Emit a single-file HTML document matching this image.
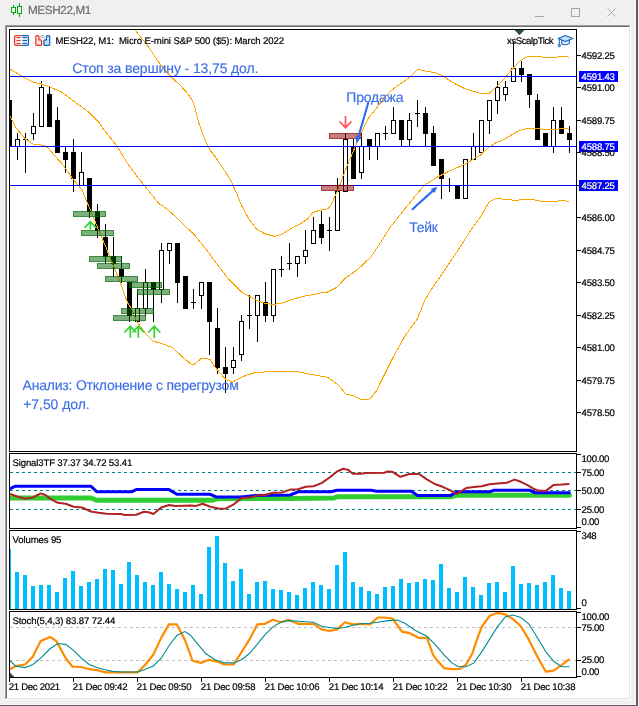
<!DOCTYPE html>
<html><head><meta charset="utf-8"><title>MESH22,M1</title>
<style>
html,body{margin:0;padding:0;background:#f0f0f0;}
body{width:639px;height:706px;position:relative;overflow:hidden;font-family:"Liberation Sans", sans-serif;}
.t{position:absolute;white-space:nowrap;font-family:"Liberation Sans", sans-serif;text-rendering:geometricPrecision;-webkit-text-stroke:0.2px currentColor;}
.a{position:absolute;white-space:nowrap;font-family:"Liberation Sans", sans-serif;text-rendering:geometricPrecision;-webkit-text-stroke:0.15px currentColor;}
</style></head><body>
<svg width="639" height="706" viewBox="0 0 639 706" style="position:absolute;left:0;top:0">
<rect x="0" y="0" width="639" height="706" fill="#f0f0f0"/>
<rect x="635" y="0" width="1" height="705" fill="#fafafa"/>
<rect x="0" y="704" width="636" height="1" fill="#fafafa"/>
<rect x="636" y="0" width="2" height="706" fill="#5e5e5e"/>
<rect x="0" y="705" width="638" height="1" fill="#5e5e5e"/>
<rect x="5" y="25" width="626" height="675" fill="#ffffff"/>
<rect x="5" y="25" width="625" height="1" fill="#a0a0a0"/>
<rect x="5" y="25" width="1" height="674" fill="#a0a0a0"/>
<rect x="6" y="26" width="623" height="1" fill="#696969"/>
<rect x="6" y="26" width="1" height="672" fill="#696969"/>
<rect x="629" y="26" width="1" height="673" fill="#e3e3e3"/>
<rect x="6" y="698" width="624" height="1" fill="#e3e3e3"/>
<g shape-rendering="crispEdges" fill="#0aa814"><rect x="11" y="7" width="5" height="6"/><rect x="13" y="5" width="1" height="2"/><rect x="13" y="13" width="1" height="2"/><rect x="17" y="6" width="5" height="8"/><rect x="19" y="3" width="1" height="3"/><rect x="19" y="14" width="1" height="3"/><rect x="12" y="8" width="3" height="4" fill="#e6ffe6"/><rect x="18" y="7" width="3" height="6" fill="#e6ffe6"/></g>
<g fill="none" stroke="#a6a6a6" stroke-width="1" shape-rendering="crispEdges"><path d="M535,16.5H544"/><rect x="571.5" y="8.5" width="8" height="8"/></g><path d="M607.5,8.5L615.5,16.5M615.5,8.5L607.5,16.5" fill="none" stroke="#a6a6a6" stroke-width="1"/>
<defs><clipPath id="cm"><rect x="10" y="30" width="566" height="421"/></clipPath><clipPath id="c1"><rect x="10" y="454" width="566" height="74"/></clipPath><clipPath id="c2"><rect x="10" y="531" width="566" height="78"/></clipPath><clipPath id="c3"><rect x="10" y="612" width="566" height="65"/></clipPath></defs>
<g clip-path="url(#cm)">
<g fill="#000" shape-rendering="crispEdges">
<rect x="9" y="100" width="1" height="47"/>
<rect x="7" y="100" width="5" height="47"/>
<rect x="17" y="133" width="1" height="6"/>
<rect x="17" y="146" width="1" height="14"/>
<rect x="15" y="139" width="5" height="8"/>
<rect x="16" y="140" width="3" height="6" fill="#fff"/>
<rect x="25" y="133" width="1" height="40"/>
<rect x="23" y="139" width="5" height="1"/>
<rect x="33" y="113" width="1" height="13"/>
<rect x="33" y="133" width="1" height="7"/>
<rect x="31" y="126" width="5" height="8"/>
<rect x="32" y="127" width="3" height="6" fill="#fff"/>
<rect x="41" y="81" width="1" height="6"/>
<rect x="39" y="87" width="5" height="40"/>
<rect x="40" y="88" width="3" height="38" fill="#fff"/>
<rect x="49" y="87" width="1" height="40"/>
<rect x="47" y="94" width="5" height="33"/>
<rect x="57" y="107" width="1" height="46"/>
<rect x="55" y="120" width="5" height="33"/>
<rect x="65" y="146" width="1" height="27"/>
<rect x="63" y="152" width="5" height="8"/>
<rect x="73" y="139" width="1" height="53"/>
<rect x="71" y="152" width="5" height="27"/>
<rect x="81" y="152" width="1" height="20"/>
<rect x="79" y="172" width="5" height="14"/>
<rect x="80" y="173" width="3" height="12" fill="#fff"/>
<rect x="89" y="178" width="1" height="40"/>
<rect x="87" y="178" width="5" height="34"/>
<rect x="97" y="204" width="1" height="34"/>
<rect x="95" y="211" width="5" height="20"/>
<rect x="105" y="224" width="1" height="40"/>
<rect x="103" y="237" width="5" height="20"/>
<rect x="113" y="237" width="1" height="40"/>
<rect x="111" y="256" width="5" height="8"/>
<rect x="121" y="256" width="1" height="27"/>
<rect x="119" y="269" width="5" height="8"/>
<rect x="129" y="282" width="1" height="40"/>
<rect x="127" y="282" width="5" height="34"/>
<rect x="137" y="289" width="1" height="19"/>
<rect x="135" y="308" width="5" height="14"/>
<rect x="136" y="309" width="3" height="12" fill="#fff"/>
<rect x="145" y="269" width="1" height="13"/>
<rect x="145" y="308" width="1" height="8"/>
<rect x="143" y="282" width="5" height="27"/>
<rect x="144" y="283" width="3" height="25" fill="#fff"/>
<rect x="153" y="282" width="1" height="40"/>
<rect x="151" y="282" width="5" height="8"/>
<rect x="161" y="243" width="1" height="7"/>
<rect x="161" y="289" width="1" height="14"/>
<rect x="159" y="250" width="5" height="40"/>
<rect x="160" y="251" width="3" height="38" fill="#fff"/>
<rect x="169" y="250" width="1" height="14"/>
<rect x="167" y="243" width="5" height="8"/>
<rect x="168" y="244" width="3" height="6" fill="#fff"/>
<rect x="177" y="243" width="1" height="60"/>
<rect x="175" y="243" width="5" height="40"/>
<rect x="185" y="276" width="1" height="33"/>
<rect x="183" y="276" width="5" height="33"/>
<rect x="193" y="289" width="1" height="20"/>
<rect x="191" y="302" width="5" height="1"/>
<rect x="201" y="295" width="1" height="14"/>
<rect x="199" y="282" width="5" height="14"/>
<rect x="200" y="283" width="3" height="12" fill="#fff"/>
<rect x="209" y="282" width="1" height="73"/>
<rect x="207" y="282" width="5" height="40"/>
<rect x="217" y="308" width="1" height="66"/>
<rect x="215" y="328" width="5" height="40"/>
<rect x="225" y="347" width="1" height="46"/>
<rect x="223" y="367" width="5" height="7"/>
<rect x="233" y="347" width="1" height="13"/>
<rect x="233" y="367" width="1" height="7"/>
<rect x="231" y="360" width="5" height="8"/>
<rect x="232" y="361" width="3" height="6" fill="#fff"/>
<rect x="241" y="315" width="1" height="6"/>
<rect x="241" y="354" width="1" height="7"/>
<rect x="239" y="321" width="5" height="34"/>
<rect x="240" y="322" width="3" height="32" fill="#fff"/>
<rect x="249" y="295" width="1" height="34"/>
<rect x="247" y="315" width="5" height="1"/>
<rect x="257" y="315" width="1" height="27"/>
<rect x="255" y="295" width="5" height="21"/>
<rect x="256" y="296" width="3" height="19" fill="#fff"/>
<rect x="265" y="282" width="1" height="40"/>
<rect x="263" y="302" width="5" height="14"/>
<rect x="273" y="315" width="1" height="7"/>
<rect x="271" y="269" width="5" height="47"/>
<rect x="272" y="270" width="3" height="45" fill="#fff"/>
<rect x="281" y="256" width="1" height="21"/>
<rect x="279" y="269" width="5" height="1"/>
<rect x="289" y="243" width="1" height="27"/>
<rect x="287" y="263" width="5" height="1"/>
<rect x="297" y="263" width="1" height="14"/>
<rect x="295" y="256" width="5" height="8"/>
<rect x="296" y="257" width="3" height="6" fill="#fff"/>
<rect x="305" y="230" width="1" height="20"/>
<rect x="305" y="256" width="1" height="8"/>
<rect x="303" y="250" width="5" height="7"/>
<rect x="304" y="251" width="3" height="5" fill="#fff"/>
<rect x="313" y="217" width="1" height="13"/>
<rect x="311" y="230" width="5" height="14"/>
<rect x="312" y="231" width="3" height="12" fill="#fff"/>
<rect x="321" y="211" width="1" height="33"/>
<rect x="319" y="224" width="5" height="14"/>
<rect x="329" y="217" width="1" height="34"/>
<rect x="327" y="230" width="5" height="1"/>
<rect x="337" y="178" width="1" height="13"/>
<rect x="335" y="191" width="5" height="40"/>
<rect x="336" y="192" width="3" height="38" fill="#fff"/>
<rect x="345" y="133" width="1" height="6"/>
<rect x="343" y="139" width="5" height="53"/>
<rect x="344" y="140" width="3" height="51" fill="#fff"/>
<rect x="353" y="139" width="1" height="40"/>
<rect x="351" y="146" width="5" height="33"/>
<rect x="361" y="133" width="1" height="13"/>
<rect x="361" y="172" width="1" height="7"/>
<rect x="359" y="146" width="5" height="27"/>
<rect x="360" y="147" width="3" height="25" fill="#fff"/>
<rect x="369" y="139" width="1" height="21"/>
<rect x="367" y="139" width="5" height="8"/>
<rect x="377" y="146" width="1" height="14"/>
<rect x="375" y="133" width="5" height="14"/>
<rect x="376" y="134" width="3" height="12" fill="#fff"/>
<rect x="385" y="126" width="1" height="14"/>
<rect x="383" y="133" width="5" height="1"/>
<rect x="393" y="107" width="1" height="13"/>
<rect x="391" y="120" width="5" height="14"/>
<rect x="392" y="121" width="3" height="12" fill="#fff"/>
<rect x="401" y="120" width="1" height="27"/>
<rect x="399" y="120" width="5" height="20"/>
<rect x="409" y="113" width="1" height="7"/>
<rect x="409" y="139" width="1" height="8"/>
<rect x="407" y="120" width="5" height="20"/>
<rect x="408" y="121" width="3" height="18" fill="#fff"/>
<rect x="417" y="100" width="1" height="27"/>
<rect x="415" y="113" width="5" height="1"/>
<rect x="425" y="107" width="1" height="40"/>
<rect x="423" y="113" width="5" height="21"/>
<rect x="433" y="126" width="1" height="40"/>
<rect x="431" y="133" width="5" height="33"/>
<rect x="441" y="159" width="1" height="40"/>
<rect x="439" y="159" width="5" height="20"/>
<rect x="449" y="178" width="1" height="14"/>
<rect x="447" y="185" width="5" height="1"/>
<rect x="457" y="185" width="1" height="14"/>
<rect x="455" y="185" width="5" height="14"/>
<rect x="463" y="159" width="5" height="40"/>
<rect x="464" y="160" width="3" height="38" fill="#fff"/>
<rect x="473" y="133" width="1" height="13"/>
<rect x="471" y="146" width="5" height="14"/>
<rect x="472" y="147" width="3" height="12" fill="#fff"/>
<rect x="479" y="120" width="5" height="33"/>
<rect x="480" y="121" width="3" height="31" fill="#fff"/>
<rect x="489" y="120" width="1" height="14"/>
<rect x="487" y="100" width="5" height="21"/>
<rect x="488" y="101" width="3" height="19" fill="#fff"/>
<rect x="497" y="81" width="1" height="6"/>
<rect x="497" y="100" width="1" height="14"/>
<rect x="495" y="87" width="5" height="14"/>
<rect x="496" y="88" width="3" height="12" fill="#fff"/>
<rect x="505" y="81" width="1" height="6"/>
<rect x="505" y="94" width="1" height="7"/>
<rect x="503" y="87" width="5" height="8"/>
<rect x="504" y="88" width="3" height="6" fill="#fff"/>
<rect x="513" y="42" width="1" height="26"/>
<rect x="511" y="68" width="5" height="14"/>
<rect x="512" y="69" width="3" height="12" fill="#fff"/>
<rect x="521" y="61" width="1" height="21"/>
<rect x="519" y="68" width="5" height="7"/>
<rect x="529" y="74" width="1" height="34"/>
<rect x="527" y="74" width="5" height="21"/>
<rect x="537" y="94" width="1" height="46"/>
<rect x="535" y="100" width="5" height="40"/>
<rect x="545" y="133" width="1" height="14"/>
<rect x="543" y="133" width="5" height="14"/>
<rect x="553" y="107" width="1" height="13"/>
<rect x="553" y="146" width="1" height="7"/>
<rect x="551" y="120" width="5" height="27"/>
<rect x="552" y="121" width="3" height="25" fill="#fff"/>
<rect x="561" y="107" width="1" height="27"/>
<rect x="559" y="120" width="5" height="14"/>
<rect x="569" y="126" width="1" height="27"/>
<rect x="567" y="133" width="5" height="7"/>
</g>
<g shape-rendering="crispEdges" stroke="#ffa500" stroke-width="1">
<polyline points="135.0,30.0 142.5,39.3 150.0,49.3 157.5,60.5 165.0,70.6 172.6,78.1 180.0,85.1 186.3,91.8 192.6,100.6 195.1,108.1 198.9,123.1 201.3,130.0 205.0,140.0 210.0,150.0 217.5,160.0 225.0,171.3 231.3,181.3 236.3,192.6 241.3,205.1 248.8,218.9 256.3,228.9 265.1,233.9 275.1,236.4 282.6,233.9 292.7,227.6 300.2,223.9 307.7,218.9 312.7,212.6 320.2,210.1 327.7,208.9 331.4,204.5 336.9,192.0 340.8,182.6 344.7,171.7 348.6,162.3 352.6,152.9 356.5,143.5 359.6,136.5 363.5,127.9 368.2,118.5 374.5,110.6 380.7,102.8 385.6,96.0 395.0,87.6 404.4,81.0 411.0,76.3 417.6,69.2 425.1,71.0 434.5,72.5 442.0,75.4 447.6,79.1 455.1,83.8 464.5,88.5 472.0,90.9 481.4,93.6 488.9,93.6 494.6,88.5 503.5,79.6 511.3,70.2 520.7,60.0 528.5,56.1 541.0,56.1 542.6,57.2 556.7,57.2 559.8,56.1 566.0,56.1 569.2,57.4" fill="none" />
<polyline points="9.7,69.0 20.6,75.5 33.2,82.2 41.0,83.8 50.4,87.2 61.3,91.9 73.9,101.3 88.0,111.5 98.9,122.4 104.1,130.0 116.6,145.6 127.6,163.6 138.6,178.5 149.5,191.8 158.9,203.6 165.0,207.5 175.0,216.0 184.0,225.0 194.1,234.4 206.6,250.0 217.6,264.9 228.6,279.0 241.9,292.3 248.9,296.2 257.6,301.0 265.6,303.6 273.5,304.4 281.3,303.3 290.7,300.2 301.6,296.7 312.6,294.7 320.0,293.0 327.5,292.0 336.9,287.3 344.4,278.9 357.6,269.5 370.7,257.3 376.3,248.8 383.8,237.6 390.0,227.5 398.5,216.9 406.9,206.3 415.4,195.8 423.8,185.9 426.6,183.8 437.9,176.8 449.2,171.1 460.4,166.2 468.9,162.0 474.5,158.5 480.0,155.3 489.4,146.9 495.6,143.0 503.5,139.9 511.3,135.2 519.1,130.5 527.0,128.6 539.5,128.5 542.6,129.5 555.1,129.5 561.4,128.4 566.0,128.4 569.2,129.6" fill="none" />
<polyline points="9.7,115.3 16.0,127.9 25.3,138.9 33.2,144.3 41.8,145.1 43.8,145.6 48.5,148.5 54.1,155.0 58.8,160.2 63.5,165.4 67.2,171.0 71.9,177.6 75.7,182.3 80.4,187.9 83.2,192.6 86.0,200.0 90.8,210.6 97.9,228.6 105.7,246.6 111.9,262.3 119.8,281.1 127.6,303.0 131.3,308.2 136.8,321.5 145.4,333.2 153.2,341.0 162.6,343.9 172.0,347.3 181.4,355.9 190.8,364.0 193.9,364.5 201.3,358.4 209.9,359.2 215.3,367.5 225.5,379.2 232.6,382.3 237.3,379.2 245.0,375.8 256.0,372.2 273.2,371.8 285.8,371.7 295.0,371.2 311.4,374.4 327.6,377.3 337.8,384.6 346.0,394.0 354.0,396.0 362.2,400.0 370.4,398.8 376.5,390.7 384.6,374.4 392.7,358.2 405.0,335.8 417.0,319.5 425.2,299.5 432.7,287.3 440.0,277.0 445.1,269.5 457.6,250.8 464.6,240.0 471.7,228.9 480.0,217.6 484.7,209.5 489.4,201.7 495.6,198.6 498.8,198.3 505.0,199.8 517.6,200.2 525.4,199.1 533.2,199.7 542.6,201.4 555.1,201.4 563.0,200.2 569.2,201.7" fill="none" />
</g>
<rect x="10" y="76" width="566" height="1" fill="#0000ff"/>
<rect x="10" y="146" width="566" height="1" fill="#0000ff"/>
<rect x="10" y="185" width="566" height="1" fill="#0000ff"/>
<g shape-rendering="crispEdges">
<rect x="73" y="211" width="33" height="6" fill="rgba(0,100,0,0.5)"/>
<rect x="73.5" y="211.5" width="32" height="5" fill="none" stroke="rgba(0,100,0,0.5)" stroke-width="1"/>
<rect x="81" y="230" width="33" height="6" fill="rgba(0,100,0,0.5)"/>
<rect x="81.5" y="230.5" width="32" height="5" fill="none" stroke="rgba(0,100,0,0.5)" stroke-width="1"/>
<rect x="89" y="256" width="33" height="6" fill="rgba(0,100,0,0.5)"/>
<rect x="89.5" y="256.5" width="32" height="5" fill="none" stroke="rgba(0,100,0,0.5)" stroke-width="1"/>
<rect x="97" y="263" width="33" height="6" fill="rgba(0,100,0,0.5)"/>
<rect x="97.5" y="263.5" width="32" height="5" fill="none" stroke="rgba(0,100,0,0.5)" stroke-width="1"/>
<rect x="105" y="276" width="33" height="6" fill="rgba(0,100,0,0.5)"/>
<rect x="105.5" y="276.5" width="32" height="5" fill="none" stroke="rgba(0,100,0,0.5)" stroke-width="1"/>
<rect x="129" y="282" width="33" height="6" fill="rgba(0,100,0,0.5)"/>
<rect x="129.5" y="282.5" width="32" height="5" fill="none" stroke="rgba(0,100,0,0.5)" stroke-width="1"/>
<rect x="137" y="289" width="33" height="6" fill="rgba(0,100,0,0.5)"/>
<rect x="137.5" y="289.5" width="32" height="5" fill="none" stroke="rgba(0,100,0,0.5)" stroke-width="1"/>
<rect x="121" y="308" width="33" height="6" fill="rgba(0,100,0,0.5)"/>
<rect x="121.5" y="308.5" width="32" height="5" fill="none" stroke="rgba(0,100,0,0.5)" stroke-width="1"/>
<rect x="113" y="315" width="33" height="6" fill="rgba(0,100,0,0.5)"/>
<rect x="113.5" y="315.5" width="32" height="5" fill="none" stroke="rgba(0,100,0,0.5)" stroke-width="1"/>
<rect x="329" y="133" width="33" height="6" fill="rgba(139,0,0,0.5)"/>
<rect x="329.5" y="133.5" width="32" height="5" fill="none" stroke="rgba(139,0,0,0.5)" stroke-width="1"/>
<rect x="321" y="185" width="33" height="6" fill="rgba(139,0,0,0.5)"/>
<rect x="321.5" y="185.5" width="32" height="5" fill="none" stroke="rgba(139,0,0,0.5)" stroke-width="1"/>
</g>
<path d="M84.3,228 L90.3,221.8 L96.3,228 M90.3,222.2 L90.3,233.5" fill="none" stroke="#35d435" stroke-width="1.7" stroke-linecap="butt" stroke-linejoin="miter"/>
<path d="M124.30000000000001,332.5 L130.3,326.3 L136.3,332.5 M130.3,326.7 L130.3,338.0" fill="none" stroke="#35d435" stroke-width="1.7" stroke-linecap="butt" stroke-linejoin="miter"/>
<path d="M132.3,332.5 L138.3,326.3 L144.3,332.5 M138.3,326.7 L138.3,338.0" fill="none" stroke="#35d435" stroke-width="1.7" stroke-linecap="butt" stroke-linejoin="miter"/>
<path d="M148.3,332.5 L154.3,326.3 L160.3,332.5 M154.3,326.7 L154.3,338.0" fill="none" stroke="#35d435" stroke-width="1.7" stroke-linecap="butt" stroke-linejoin="miter"/>
<path d="M339.5,121.5 L345.5,127.7 L351.5,121.5 M345.5,127.3 L345.5,116" fill="none" stroke="#ff5252" stroke-width="1.7" stroke-linecap="butt" stroke-linejoin="miter"/>
<g stroke="#2e6aee" stroke-width="2.1" fill="#2e6aee" stroke-linecap="round"><path d="M368.2,103 L358.5,136.3"/><path d="M356.3,144 L355.7,135.5 L361.3,137.1 Z" stroke="none"/><path d="M412.5,209.2 L433,190.6"/><path d="M437.3,186.8 L434.6,193 L430.8,188.8 Z" stroke="none"/></g>
</g>
<path d="M514.5,30 L524.5,30 L519.5,35.3 Z" fill="#2f4f4f"/>
<g clip-path="url(#c1)">
<path d="M10,472.5H576" stroke="#008080" stroke-width="1" stroke-dasharray="3,3" shape-rendering="crispEdges"/>
<path d="M10,490.5H576" stroke="#008080" stroke-width="1" stroke-dasharray="3,3" shape-rendering="crispEdges"/>
<path d="M10,509.5H576" stroke="#008080" stroke-width="1" stroke-dasharray="3,3" shape-rendering="crispEdges"/>
<polyline points="10.0,498.0 90.8,498.0 97.0,500.3 211.9,500.3 218.2,498.7 290.0,498.4 334.0,498.0 337.0,496.8 450.4,496.8 456.7,495.3 569.4,495.3" fill="none" stroke="#32cd32" stroke-width="5" stroke-linecap="round" stroke-linejoin="round"/>
<polyline points="10.0,488.7 15.6,486.2 90.8,486.2 97.0,491.8 131.5,491.8 136.2,489.6 169.0,489.6 176.8,494.3 210.3,494.3 216.6,497.1 240.0,497.1 246.3,496.5 255.7,495.6 290.2,495.0 298.0,491.8 330.8,491.8 337.1,490.3 371.5,490.3 376.2,491.2 411.3,491.2 417.6,495.6 450.4,495.6 456.7,491.8 489.5,491.8 494.2,490.3 530.2,490.3 535.0,492.8 569.4,492.8" fill="none" stroke="#0000ff" stroke-width="3" stroke-linecap="round" stroke-linejoin="round"/>
<polyline points="10.0,494.0 17.2,496.5 25.0,498.7 32.9,497.5 40.7,493.4 45.4,495.0 51.6,499.6 57.9,502.8 65.7,503.7 73.6,506.8 82.0,507.5 90.8,511.5 98.6,512.8 106.4,513.7 120.5,514.0 125.2,515.0 136.2,514.7 144.0,511.8 148.7,512.2 153.4,514.0 161.2,507.5 169.0,505.0 175.3,505.9 190.9,505.6 196.3,505.9 202.5,503.7 210.3,506.8 219.7,508.7 226.0,508.4 233.8,504.3 241.6,498.1 249.5,497.5 257.3,495.6 265.1,495.0 272.9,492.8 282.3,492.4 290.2,489.6 298.0,489.3 305.8,486.8 313.6,486.2 321.5,483.1 329.3,477.7 337.1,471.5 343.4,468.7 348.1,469.9 352.8,473.7 360.6,473.7 365.3,473.0 384.0,472.7 387.8,471.5 392.5,471.8 400.3,476.8 409.7,474.0 419.1,474.0 426.9,479.3 434.8,484.0 442.6,486.8 450.4,490.3 456.7,494.0 466.1,488.1 473.9,487.1 481.7,486.2 489.5,484.3 497.4,483.4 506.8,482.7 514.6,479.6 520.8,481.8 527.1,484.9 533.4,488.7 538.1,490.6 545.9,490.9 553.7,484.9 561.5,484.6 569.4,484.0" fill="none" stroke="#b22222" stroke-width="2" stroke-linejoin="round"/>
</g>
<g clip-path="url(#c2)" fill="#00bfff" shape-rendering="crispEdges">
<rect x="7" y="549" width="4" height="60"/>
<rect x="15" y="572" width="4" height="37"/>
<rect x="23" y="575" width="4" height="34"/>
<rect x="31" y="586" width="4" height="23"/>
<rect x="39" y="585" width="4" height="24"/>
<rect x="47" y="585" width="4" height="24"/>
<rect x="55" y="592" width="4" height="17"/>
<rect x="63" y="578" width="4" height="31"/>
<rect x="71" y="571" width="4" height="38"/>
<rect x="79" y="586" width="4" height="23"/>
<rect x="87" y="582" width="4" height="27"/>
<rect x="95" y="579" width="4" height="30"/>
<rect x="103" y="569" width="4" height="40"/>
<rect x="111" y="570" width="4" height="39"/>
<rect x="119" y="584" width="4" height="25"/>
<rect x="127" y="562" width="4" height="47"/>
<rect x="135" y="575" width="4" height="34"/>
<rect x="143" y="582" width="4" height="27"/>
<rect x="151" y="585" width="4" height="24"/>
<rect x="159" y="572" width="4" height="37"/>
<rect x="167" y="584" width="4" height="25"/>
<rect x="175" y="589" width="4" height="20"/>
<rect x="183" y="592" width="4" height="17"/>
<rect x="191" y="585" width="4" height="24"/>
<rect x="199" y="594" width="4" height="15"/>
<rect x="207" y="547" width="4" height="62"/>
<rect x="215" y="536" width="4" height="73"/>
<rect x="223" y="563" width="4" height="46"/>
<rect x="231" y="581" width="4" height="28"/>
<rect x="239" y="569" width="4" height="40"/>
<rect x="247" y="594" width="4" height="15"/>
<rect x="255" y="582" width="4" height="27"/>
<rect x="263" y="581" width="4" height="28"/>
<rect x="271" y="589" width="4" height="20"/>
<rect x="279" y="590" width="4" height="19"/>
<rect x="287" y="592" width="4" height="17"/>
<rect x="295" y="595" width="4" height="14"/>
<rect x="303" y="588" width="4" height="21"/>
<rect x="311" y="582" width="4" height="27"/>
<rect x="319" y="585" width="4" height="24"/>
<rect x="327" y="589" width="4" height="20"/>
<rect x="335" y="565" width="4" height="44"/>
<rect x="343" y="552" width="4" height="57"/>
<rect x="351" y="582" width="4" height="27"/>
<rect x="359" y="587" width="4" height="22"/>
<rect x="367" y="591" width="4" height="18"/>
<rect x="375" y="594" width="4" height="15"/>
<rect x="383" y="587" width="4" height="22"/>
<rect x="391" y="586" width="4" height="23"/>
<rect x="399" y="579" width="4" height="30"/>
<rect x="407" y="583" width="4" height="26"/>
<rect x="415" y="582" width="4" height="27"/>
<rect x="423" y="579" width="4" height="30"/>
<rect x="431" y="580" width="4" height="29"/>
<rect x="439" y="564" width="4" height="45"/>
<rect x="447" y="588" width="4" height="21"/>
<rect x="455" y="592" width="4" height="17"/>
<rect x="463" y="577" width="4" height="32"/>
<rect x="471" y="587" width="4" height="22"/>
<rect x="479" y="595" width="4" height="14"/>
<rect x="487" y="583" width="4" height="26"/>
<rect x="495" y="582" width="4" height="27"/>
<rect x="503" y="592" width="4" height="17"/>
<rect x="511" y="566" width="4" height="43"/>
<rect x="519" y="584" width="4" height="25"/>
<rect x="527" y="583" width="4" height="26"/>
<rect x="535" y="585" width="4" height="24"/>
<rect x="543" y="582" width="4" height="27"/>
<rect x="551" y="575" width="4" height="34"/>
<rect x="559" y="588" width="4" height="21"/>
<rect x="567" y="591" width="4" height="18"/>
</g>
<g clip-path="url(#c3)">
<path d="M10,627.5H576" stroke="#c0c0c0" stroke-width="1" stroke-dasharray="3,3" shape-rendering="crispEdges"/>
<path d="M10,660.5H576" stroke="#c0c0c0" stroke-width="1" stroke-dasharray="3,3" shape-rendering="crispEdges"/>
<polyline points="10.0,669.2 15.6,666.0 25.0,664.5 32.9,656.6 40.7,641.0 50.0,636.9 56.3,641.0 65.7,658.2 72.6,666.7 81.4,667.0 89.2,669.2 97.0,670.1 104.9,672.3 112.7,672.3 137.7,672.3 145.5,664.5 153.4,654.5 161.2,637.9 169.0,624.4 176.8,624.4 184.7,639.4 192.5,660.7 201.0,662.9 208.8,659.8 216.6,661.3 224.4,664.5 233.8,664.5 241.6,652.0 249.5,639.4 257.3,624.4 265.1,623.8 272.9,619.7 280.8,622.2 288.6,619.7 298.0,623.8 313.6,623.8 321.5,629.4 329.3,631.0 337.1,629.4 344.9,622.2 352.8,624.4 360.6,623.8 370.0,624.4 377.8,617.5 384.0,617.5 392.5,618.5 401.9,631.6 409.7,633.2 419.1,637.9 426.9,637.9 433.2,655.1 437.9,661.3 444.2,668.2 452.0,669.2 459.8,668.8 466.1,664.5 472.3,653.5 477.0,639.4 481.7,626.9 489.5,616.0 497.4,612.8 505.2,614.4 513.0,619.1 520.8,626.3 528.7,639.4 536.5,655.1 545.9,671.7 553.7,670.7 561.5,665.1 569.4,659.1" fill="none" stroke="#ff8c00" stroke-width="2.2" stroke-linejoin="round" stroke-linecap="butt"/>
<polyline points="10.0,660.7 15.6,666.0 25.0,667.6 32.9,664.5 40.7,658.2 50.0,648.8 57.9,643.5 65.7,644.4 73.6,650.4 81.4,658.2 89.2,664.5 97.0,667.6 104.9,669.8 112.7,671.4 122.1,672.0 137.7,672.0 145.5,669.2 153.4,666.0 161.2,658.2 169.0,645.7 176.8,635.4 184.7,631.6 190.0,634.7 197.8,644.1 205.6,653.5 215.0,659.8 224.4,662.9 233.8,662.9 241.6,659.8 249.5,653.5 257.3,644.1 265.1,634.7 272.9,626.9 280.8,622.2 288.6,620.6 298.0,621.3 313.6,622.2 321.5,626.3 329.3,627.5 337.1,628.5 344.9,627.5 352.8,625.3 360.6,623.8 370.0,623.2 377.8,622.2 387.8,620.6 397.2,620.0 405.0,623.2 414.4,630.0 426.9,636.3 434.8,644.1 444.2,655.1 452.0,662.9 458.2,666.7 466.1,666.7 473.9,662.9 481.7,651.9 489.5,639.4 497.4,626.9 505.2,616.9 513.0,615.0 520.8,617.5 528.7,623.8 536.5,636.3 545.9,651.9 553.7,661.3 561.5,666.7 569.4,666.7" fill="none" stroke="#008b8b" stroke-width="1.1"/>
<path d="M10,672.5 L10,677 L14.5,677 Z" fill="#2f4f4f"/>
</g>
<g shape-rendering="crispEdges">
<rect x="9" y="29" width="1" height="423" fill="#000"/>
<rect x="576" y="29" width="1" height="423" fill="#000"/>
<rect x="9" y="453" width="1" height="76" fill="#000"/>
<rect x="576" y="453" width="1" height="76" fill="#000"/>
<rect x="9" y="530" width="1" height="80" fill="#000"/>
<rect x="576" y="530" width="1" height="80" fill="#000"/>
<rect x="9" y="611" width="1" height="67" fill="#000"/>
<rect x="576" y="611" width="1" height="67" fill="#000"/>
<rect x="9" y="29" width="568" height="1" fill="#000"/>
<rect x="9" y="451" width="568" height="1" fill="#000"/>
<rect x="9" y="453" width="568" height="1" fill="#000"/>
<rect x="9" y="528" width="568" height="1" fill="#000"/>
<rect x="9" y="530" width="568" height="1" fill="#000"/>
<rect x="9" y="609" width="568" height="1" fill="#000"/>
<rect x="9" y="611" width="568" height="1" fill="#000"/>
<rect x="9" y="677" width="568" height="1" fill="#000"/>
<rect x="577" y="55" width="4" height="1" fill="#000"/>
<rect x="577" y="87" width="4" height="1" fill="#000"/>
<rect x="577" y="120" width="4" height="1" fill="#000"/>
<rect x="577" y="152" width="4" height="1" fill="#000"/>
<rect x="577" y="185" width="4" height="1" fill="#000"/>
<rect x="577" y="217" width="4" height="1" fill="#000"/>
<rect x="577" y="250" width="4" height="1" fill="#000"/>
<rect x="577" y="282" width="4" height="1" fill="#000"/>
<rect x="577" y="315" width="4" height="1" fill="#000"/>
<rect x="577" y="347" width="4" height="1" fill="#000"/>
<rect x="577" y="380" width="4" height="1" fill="#000"/>
<rect x="577" y="412" width="4" height="1" fill="#000"/>
<rect x="577" y="454" width="4" height="1" fill="#000"/>
<rect x="577" y="472" width="4" height="1" fill="#000"/>
<rect x="577" y="490" width="4" height="1" fill="#000"/>
<rect x="577" y="509" width="4" height="1" fill="#000"/>
<rect x="577" y="527" width="4" height="1" fill="#000"/>
<rect x="577" y="531" width="4" height="1" fill="#000"/>
<rect x="577" y="608" width="4" height="1" fill="#000"/>
<rect x="577" y="612" width="4" height="1" fill="#000"/>
<rect x="577" y="627" width="4" height="1" fill="#000"/>
<rect x="577" y="660" width="4" height="1" fill="#000"/>
<rect x="577" y="676" width="4" height="1" fill="#000"/>
<rect x="9" y="678" width="1" height="4" fill="#000"/>
<rect x="73" y="678" width="1" height="4" fill="#000"/>
<rect x="137" y="678" width="1" height="4" fill="#000"/>
<rect x="201" y="678" width="1" height="4" fill="#000"/>
<rect x="265" y="678" width="1" height="4" fill="#000"/>
<rect x="329" y="678" width="1" height="4" fill="#000"/>
<rect x="393" y="678" width="1" height="4" fill="#000"/>
<rect x="457" y="678" width="1" height="4" fill="#000"/>
<rect x="521" y="678" width="1" height="4" fill="#000"/>
</g>
<rect x="579" y="71" width="39" height="11" fill="#0000ff" shape-rendering="crispEdges"/>
<rect x="579" y="141" width="39" height="11" fill="#0000ff" shape-rendering="crispEdges"/>
<rect x="579" y="180" width="39" height="11" fill="#0000ff" shape-rendering="crispEdges"/>
</svg>
<svg width="639" height="706" viewBox="0 0 639 706" style="position:absolute;left:0;top:0">
<g shape-rendering="geometricPrecision" fill="none">
<rect x="14.6" y="35.6" width="13.8" height="9.8" rx="1.4" fill="#fff"/>
<rect x="16.4" y="37" width="4.2" height="7" fill="#fde0dc"/>
<rect x="22.4" y="37" width="4.6" height="7" fill="#cfe8fc"/>
<path d="M21.5,35.6H16a1.4,1.4 0 0 0 -1.4,1.4V44a1.4,1.4 0 0 0 1.4,1.4H21.5" stroke="#dc3a30" stroke-width="1.3"/>
<path d="M21.5,35.6H27a1.4,1.4 0 0 1 1.4,1.4V44a1.4,1.4 0 0 1 -1.4,1.4H21.5" stroke="#115fb6" stroke-width="1.3"/>
<path d="M16.4,37.5H20.6M16.4,40.5H20.6M16.4,43.5H20.6" stroke="#dc3a30" stroke-width="1"/>
<path d="M22.4,37.5H27M22.4,40.5H27M22.4,43.5H27" stroke="#115fb6" stroke-width="1"/>
<path d="M35.8,36.6a1,1 0 0 1 1,-1H38a1,1 0 0 1 1,1V39.8H40.6a1,1 0 0 1 1,1V44.4a1,1 0 0 1 -1,1H36.8a1,1 0 0 1 -1,-1Z" fill="#fddcd6" stroke="#dc3a30" stroke-width="1.2"/>
<path d="M49.7,36.6a1,1 0 0 0 -1,-1H47.5a1,1 0 0 0 -1,1V39.8H44.9a1,1 0 0 0 -1,1V44.4a1,1 0 0 0 1,1H48.7a1,1 0 0 0 1,-1Z" fill="#c4e2fb" stroke="#115fb6" stroke-width="1.2"/>
<rect x="40.6" y="35.5" width="3.6" height="2.2" rx="0.9" fill="#f2f2f2" stroke="#9c9c9c" stroke-width="0.9"/>
<path d="M561.6,40V43.2C562.8,45.3 567.8,45.3 569.4,43.2V40Z" fill="#d8eefd" stroke="#1464b8" stroke-width="1.05" stroke-linejoin="round"/>
<path d="M558.2,38.4L565.4,35.4L572.8,38.4L565.4,41.4Z" fill="#c4e3fb" stroke="#1464b8" stroke-width="1.05" stroke-linejoin="round"/>
<path d="M559.3,38.8V44.5" stroke="#1464b8" stroke-width="1.05"/><circle cx="559.3" cy="45.5" r="1.2" fill="#5fa5e0" stroke="#1464b8" stroke-width="0.9"/>
</g></svg>
<div style="position:absolute;left:0;top:0;width:639px;height:706px;will-change:transform;">
<div id="e0" class="t" style="left:28px;top:3.20px;font-size:11.7px;color:#6b6b6b;height:16px;line-height:16px;letter-spacing:-0.363px">MESH22,M1</div>
<div id="e1" class="t" style="left:55.5px;top:33.50px;font-size:9.6px;color:#000;height:16px;line-height:16px;letter-spacing:-0.119px">MESH22, M1:&nbsp; Micro E-mini S&amp;P 500 ($5): March 2022</div>
<div id="e2" class="t" style="left:507px;top:34.00px;font-size:9.6px;color:#000;height:16px;line-height:16px;letter-spacing:-0.421px">xsScalpTick</div>
<div id="e3" class="t" style="left:581.6px;top:48.50px;font-size:9.6px;color:#000;height:16px;line-height:16px;letter-spacing:-0.241px">4592.25</div>
<div id="e4" class="t" style="left:581.6px;top:80.50px;font-size:9.6px;color:#000;height:16px;line-height:16px;letter-spacing:-0.241px">4591.00</div>
<div id="e5" class="t" style="left:581.6px;top:113.50px;font-size:9.6px;color:#000;height:16px;line-height:16px;letter-spacing:-0.241px">4589.75</div>
<div id="e6" class="t" style="left:581.6px;top:145.50px;font-size:9.6px;color:#000;height:16px;line-height:16px;letter-spacing:-0.241px">4588.50</div>
<div id="e7" class="t" style="left:581.6px;top:178.50px;font-size:9.6px;color:#000;height:16px;line-height:16px;letter-spacing:-0.241px">4587.25</div>
<div id="e8" class="t" style="left:581.6px;top:210.50px;font-size:9.6px;color:#000;height:16px;line-height:16px;letter-spacing:-0.241px">4586.00</div>
<div id="e9" class="t" style="left:581.6px;top:243.50px;font-size:9.6px;color:#000;height:16px;line-height:16px;letter-spacing:-0.241px">4584.75</div>
<div id="e10" class="t" style="left:581.6px;top:275.50px;font-size:9.6px;color:#000;height:16px;line-height:16px;letter-spacing:-0.241px">4583.50</div>
<div id="e11" class="t" style="left:581.6px;top:308.50px;font-size:9.6px;color:#000;height:16px;line-height:16px;letter-spacing:-0.241px">4582.25</div>
<div id="e12" class="t" style="left:581.6px;top:340.50px;font-size:9.6px;color:#000;height:16px;line-height:16px;letter-spacing:-0.241px">4581.00</div>
<div id="e13" class="t" style="left:581.6px;top:373.50px;font-size:9.6px;color:#000;height:16px;line-height:16px;letter-spacing:-0.241px">4579.75</div>
<div id="e14" class="t" style="left:581.6px;top:405.50px;font-size:9.6px;color:#000;height:16px;line-height:16px;letter-spacing:-0.241px">4578.50</div>
<div id="e15" class="t" style="left:581.6px;top:69.50px;font-size:9.6px;color:#fff;height:16px;line-height:16px;letter-spacing:-0.241px">4591.43</div>
<div id="e16" class="t" style="left:581.6px;top:139.50px;font-size:9.6px;color:#fff;height:16px;line-height:16px;letter-spacing:-0.241px">4588.75</div>
<div id="e17" class="t" style="left:581.6px;top:178.50px;font-size:9.6px;color:#fff;height:16px;line-height:16px;letter-spacing:-0.241px">4587.25</div>
<div id="e18" class="t" style="left:581.6px;top:451.50px;font-size:9.6px;color:#000;height:16px;line-height:16px;letter-spacing:-0.307px">100.00</div>
<div id="e19" class="t" style="left:581.6px;top:465.50px;font-size:9.6px;color:#000;height:16px;line-height:16px;letter-spacing:-0.303px">75.00</div>
<div id="e20" class="t" style="left:581.6px;top:483.50px;font-size:9.6px;color:#000;height:16px;line-height:16px;letter-spacing:-0.303px">50.00</div>
<div id="e21" class="t" style="left:581.6px;top:502.50px;font-size:9.6px;color:#000;height:16px;line-height:16px;letter-spacing:-0.303px">25.00</div>
<div id="e22" class="t" style="left:581.6px;top:515.00px;font-size:9.6px;color:#000;height:16px;line-height:16px;letter-spacing:-0.297px">0.00</div>
<div id="e23" class="t" style="left:12.5px;top:455.70px;font-size:9.6px;color:#000;height:16px;line-height:16px;letter-spacing:-0.154px">Signal3TF 37.37 34.72 53.41</div>
<div id="e24" class="t" style="left:581.6px;top:528.60px;font-size:9.6px;color:#000;height:16px;line-height:16px;letter-spacing:-0.505px">348</div>
<div id="e25" class="t" style="left:581.6px;top:596.40px;font-size:9.6px;color:#000;height:16px;line-height:16px;letter-spacing:-0.544px">0</div>
<div id="e26" class="t" style="left:12.5px;top:532.70px;font-size:9.6px;color:#000;height:16px;line-height:16px;letter-spacing:-0.134px">Volumes 95</div>
<div id="e27" class="t" style="left:581.6px;top:609.70px;font-size:9.6px;color:#000;height:16px;line-height:16px;letter-spacing:-0.307px">100.00</div>
<div id="e28" class="t" style="left:581.6px;top:620.70px;font-size:9.6px;color:#000;height:16px;line-height:16px;letter-spacing:-0.303px">75.00</div>
<div id="e29" class="t" style="left:581.6px;top:653.30px;font-size:9.6px;color:#000;height:16px;line-height:16px;letter-spacing:-0.303px">25.00</div>
<div id="e30" class="t" style="left:581.6px;top:664.50px;font-size:9.6px;color:#000;height:16px;line-height:16px;letter-spacing:-0.297px">0.00</div>
<div id="e31" class="t" style="left:12.5px;top:613.60px;font-size:9.6px;color:#000;height:16px;line-height:16px;letter-spacing:-0.121px">Stoch(5,4,3) 83.87 72.44</div>
<div id="e32" class="t" style="left:8.8px;top:679.80px;font-size:9.6px;color:#000;height:16px;line-height:16px;letter-spacing:-0.310px">21 Dec 2021</div>
<div id="e33" class="t" style="left:72.8px;top:679.80px;font-size:9.6px;color:#000;height:16px;line-height:16px;letter-spacing:-0.215px">21 Dec 09:42</div>
<div id="e34" class="t" style="left:136.8px;top:679.80px;font-size:9.6px;color:#000;height:16px;line-height:16px;letter-spacing:-0.215px">21 Dec 09:50</div>
<div id="e35" class="t" style="left:200.8px;top:679.80px;font-size:9.6px;color:#000;height:16px;line-height:16px;letter-spacing:-0.215px">21 Dec 09:58</div>
<div id="e36" class="t" style="left:264.8px;top:679.80px;font-size:9.6px;color:#000;height:16px;line-height:16px;letter-spacing:-0.215px">21 Dec 10:06</div>
<div id="e37" class="t" style="left:328.8px;top:679.80px;font-size:9.6px;color:#000;height:16px;line-height:16px;letter-spacing:-0.215px">21 Dec 10:14</div>
<div id="e38" class="t" style="left:392.8px;top:679.80px;font-size:9.6px;color:#000;height:16px;line-height:16px;letter-spacing:-0.215px">21 Dec 10:22</div>
<div id="e39" class="t" style="left:456.8px;top:679.80px;font-size:9.6px;color:#000;height:16px;line-height:16px;letter-spacing:-0.215px">21 Dec 10:30</div>
<div id="e40" class="t" style="left:520.8px;top:679.80px;font-size:9.6px;color:#000;height:16px;line-height:16px;letter-spacing:-0.215px">21 Dec 10:38</div>
<div id="e41" class="a" style="left:72.3px;top:58.80px;font-size:14px;color:#3d6ee6;height:18px;line-height:18px;letter-spacing:-0.123px">Стоп за вершину - 13,75 дол.</div>
<div id="e42" class="a" style="left:346.3px;top:88.40px;font-size:14px;color:#3d6ee6;height:18px;line-height:18px;letter-spacing:-0.205px">Продажа</div>
<div id="e43" class="a" style="left:409.2px;top:218.00px;font-size:14px;color:#3d6ee6;height:18px;line-height:18px;letter-spacing:-0.275px">Тейк</div>
<div id="e44" class="a" style="left:22.6px;top:375.60px;font-size:14px;color:#3d6ee6;height:18px;line-height:18px;letter-spacing:-0.217px">Анализ: Отклонение с перегрузом</div>
<div id="e45" class="a" style="left:23.2px;top:394.50px;font-size:14px;color:#3d6ee6;height:18px;line-height:18px;letter-spacing:-0.053px">+7,50 дол.</div>
</div>
</body></html>
